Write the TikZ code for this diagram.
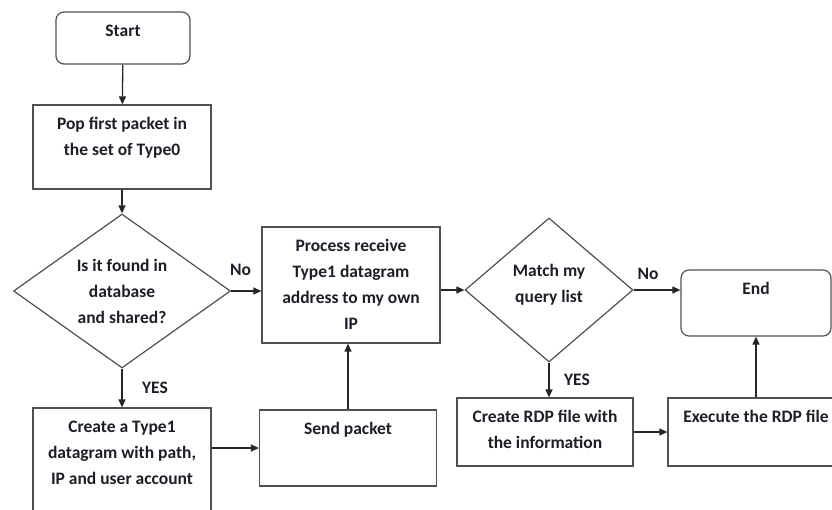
\documentclass[tikz,border=0pt]{standalone}
\usepackage{fontspec}
\setmainfont{Carlito}
\usepackage{tikz}
\usetikzlibrary{shapes.geometric}
\usetikzlibrary{arrows.meta}
\usepackage{xcolor}
\definecolor{ColLine}{RGB}{80,80,80}
\definecolor{ColText}{RGB}{30,30,40}
\newcommand{\StepText}[3]{\parbox[c][#2][t]{#1}{\centering\rule{0pt}{24.5pt}#3}}
\tikzstyle{StepBox}=[rectangle,draw=ColLine,line width=1.2pt,inner sep=0pt,text=ColText,
font=\fontsize{17.5}{26}\selectfont\bfseries]
\tikzstyle{RoundBox}=[StepBox,rounded corners=8pt]
\tikzstyle{Decision}=[diamond,draw=ColLine,line width=1.2pt,inner sep=0pt,aspect=1.4,align=center,
text=ColText,font=\fontsize{17.5}{26}\selectfont\bfseries]
\tikzstyle{Flow}=[black!85,line width=1.3pt,-{Triangle[length=8pt,width=7pt]}]
\tikzstyle{Answer}=[text=ColText,inner sep=0pt,font=\fontsize{17.5}{20}\selectfont\bfseries]

\begin{document}
\begin{tikzpicture}[x=1pt,y=-1pt]
        \path[use as bounding box,fill=white](0,0)rectangle(832,509);
        \node[RoundBox](start)at(123,38){\StepText{134pt}{52pt}{Start}};
        \node[StepBox](pop)at(122,147){\StepText{178pt}{84pt}{Pop first packet in\\the set of Type0}};
        \node[Decision,minimum width=217pt,minimum height=154pt](found)at(122,291){Is it found in\\database\\and shared?};
        \node[StepBox](create)at(122,463){\StepText{178pt}{110pt}{Create a Type1\\datagram with path,\\IP and user account}};
        \node[StepBox](send)at(348,448){\StepText{177pt}{76pt}{Send packet}};
        \node[StepBox](proc)at(351,285){\StepText{178pt}{116pt}{Process receive\\Type1 datagram\\address to my own\\IP}};
        \node[Decision,minimum width=168pt,minimum height=144pt,text depth=13pt](query)at(549,290){Match my\\query list};
        \node[RoundBox](stop)at(756,303){\StepText{150pt}{66pt}{End}};
        \node[StepBox](rdp)at(545,432){\StepText{176pt}{68pt}{Create RDP file with\\the information}};
        \node[StepBox](exec)at(756,432){\StepText{176pt}{68pt}{Execute the RDP file}};
        \draw[Flow](start)--(pop);
        \draw[Flow](pop)--(found);
        \draw[Flow](found.east)--(found.east-|proc.west)node[Answer,pos=0.31,yshift=21pt]{No};
        \draw[Flow](found)--(create)node[Answer,midway,xshift=33pt]{YES};
        \draw[Flow](send.west-|create.east)--(send.west);
        \draw[Flow](send.north)--(send.north|-proc.south);
        \draw[Flow](proc.east|-query.west)--(query.west);
        \draw[Flow](query.east)--(query.east-|stop.west)node[Answer,pos=0.31,yshift=16pt]{No};
        \draw[Flow](query.south)--(query.south|-rdp.north)node[Answer,midway,xshift=28pt]{YES};
        \draw[Flow](rdp)--(exec);
        \draw[Flow](exec)--(stop);
    \end{tikzpicture}
\end{document}
